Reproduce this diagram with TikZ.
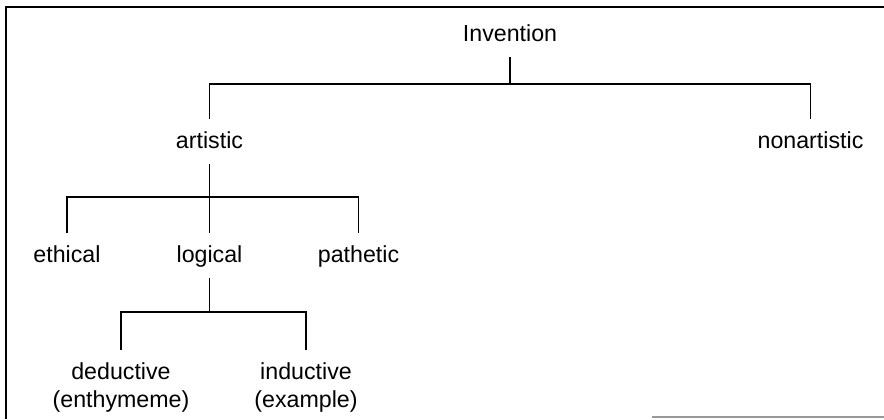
\documentclass[tikz,border=0pt]{standalone}
\usepackage{fontspec}
\setmainfont{Liberation Sans}
\usetikzlibrary{positioning}

\begin{document}
\begin{tikzpicture}[x=0.5pt, y=-0.5pt]
    \tikzset{
      term/.style={font=\fontsize{11.6}{14}\selectfont, text height=8.4pt, text depth=2pt,
        inner xsep=2pt, inner ysep=6pt, anchor=base}, % one-line labels, placed on their baseline
      leaf/.style={font=\fontsize{11.6}{14}\selectfont, align=center,
        inner xsep=2pt, inner ysep=6pt, anchor=north}, % two-line labels at the bottom
      branch/.style={line width=0.9pt}, % the tree lines
    }
    \useasboundingbox (0,0) rectangle (884,419);

    % frame
    \draw[line width=0.9pt] (6,419) |- (884,7);
    \draw[line width=0.9pt, black!40] (652,417) -- (884,417);

    \node[term] (inv) at (510,41) {Invention};
    \node[term] (art) at (209.5,148) {artistic};
    \node[term] (non) at (810.5,148) {nonartistic};
    \node[term] (eth) at (67,262) {ethical};
    \node[term] (log) at (209.5,262) {logical};
    \node[term] (pat) at (358.5,262) {pathetic};
    \node[leaf] (ded) at (121,350) {deductive\\(enthymeme)};
    \node[leaf] (ind) at (306,350) {inductive\\(example)};

    \coordinate (j1) at (510,84);
    \coordinate (j2) at (209.5,197);
    \coordinate (j3) at (209.5,312);

    \draw[branch] (inv) -- (j1);
    \draw[branch] (art) |- (j1) -| (non);
    \draw[branch] (art) -- (log);
    \draw[branch] (eth) |- (j2) -| (pat);
    \draw[branch] (log) -- (j3);
    \draw[branch] (ded) |- (j3) -| (ind);
\end{tikzpicture}
\end{document}
